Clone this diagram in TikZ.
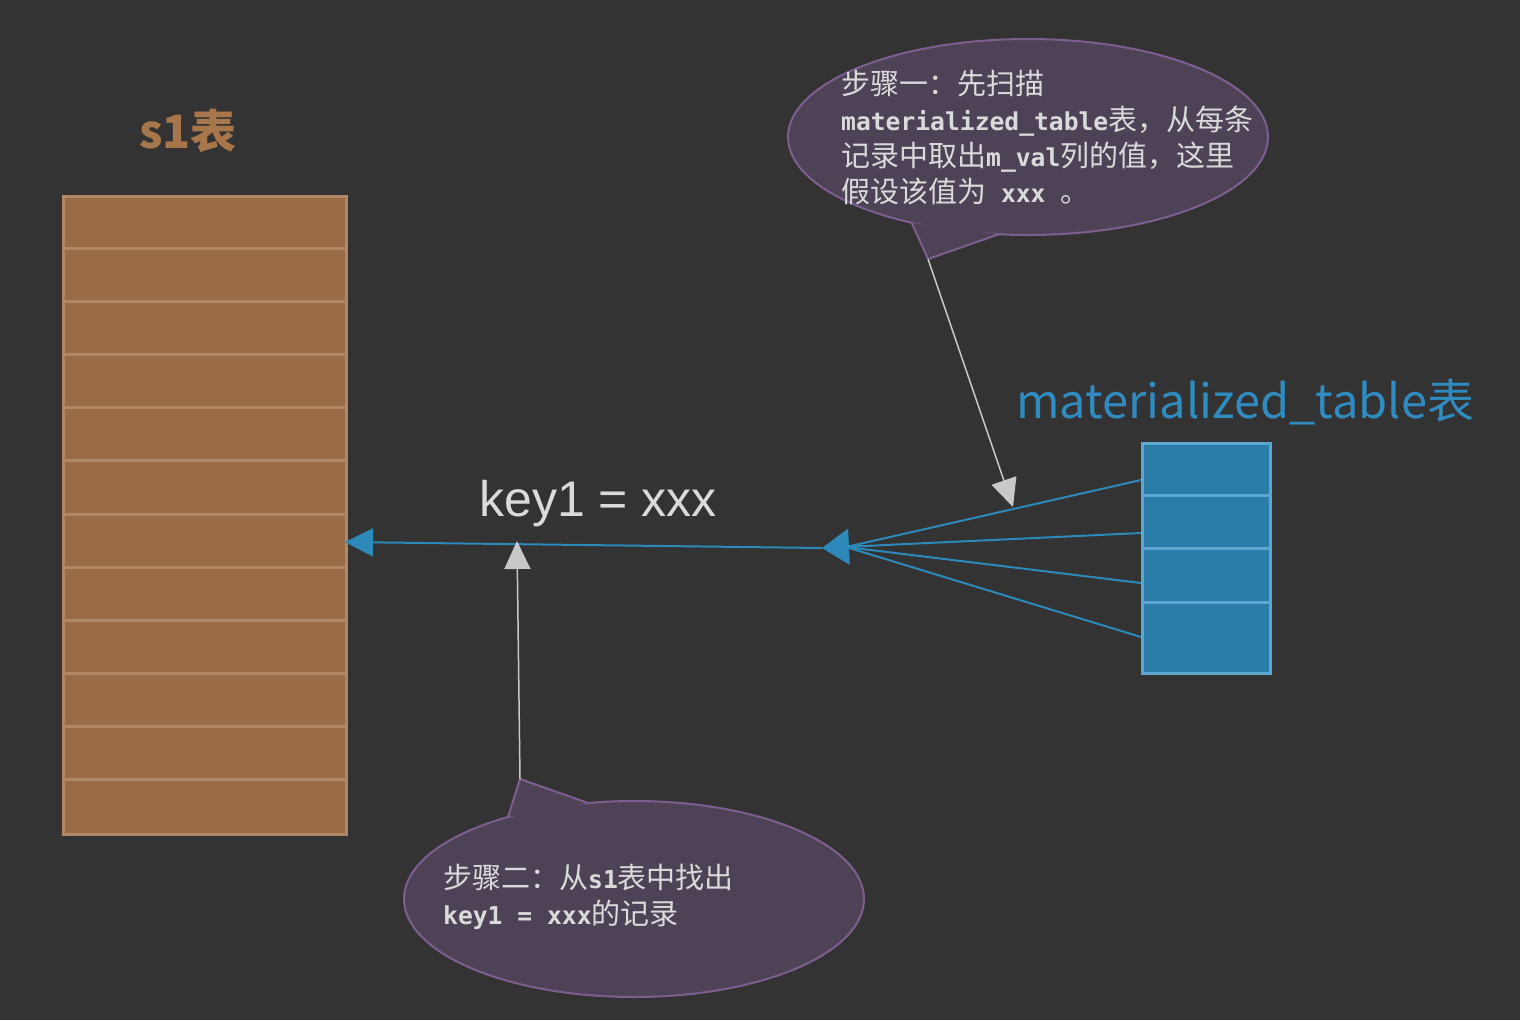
\documentclass[tikz,border=0pt]{standalone}
\usepackage{fontspec}
\setmainfont{Liberation Sans}
\newfontfamily\cjk{Noto Sans CJK SC}
\newfontfamily\monofnt[Scale=0.85]{DejaVu Sans Mono}
\usetikzlibrary{arrows.meta,calc}
\definecolor{bgc}{HTML}{333333}
\definecolor{s1fill}{HTML}{9A6B47}
\definecolor{s1line}{HTML}{B08866}
\definecolor{matfill}{HTML}{2A7DA8}
\definecolor{matline}{HTML}{5DA6CF}
\definecolor{blueln}{HTML}{2C89BA}
\definecolor{bubfill}{HTML}{4E4356}
\definecolor{bubline}{HTML}{7E5E90}
\definecolor{grayln}{HTML}{C8C8C8}
\definecolor{txtgray}{HTML}{DADADA}
\definecolor{s1title}{HTML}{A8764B}
\definecolor{mattitle}{HTML}{2F8BC0}
\newcommand{\mtxt}[1]{{\monofnt\bfseries #1}}
\tikzset{
  s1box/.style={draw=s1line, fill=s1fill, line width=3pt, inner sep=0pt, anchor=north west},
  s1row/.style={draw=s1line, line width=3pt},
  matbox/.style={draw=matline, fill=matfill, line width=3pt, inner sep=0pt, anchor=north west},
  matrow/.style={draw=matline, line width=3pt},
  bfill/.style={fill=bubfill},
  bline/.style={draw=bubline, line width=2pt},
  blueconn/.style={draw=blueln, line width=2pt},
  grayconn/.style={draw=grayln, line width=1.5pt, -{Triangle[length=28pt,width=26pt]}, grayln},
  bubtext/.style={anchor=north west, align=left, inner sep=0pt, text=txtgray, font=\fontsize{29}{36}\selectfont},
}
\begin{document}
\begin{tikzpicture}[x=1pt,y=-1pt]
\fill[bgc] (0,0) rectangle (1520,1020);
\useasboundingbox (0,0) rectangle (1520,1020);

% s1 table
\node[s1box, minimum width=283pt, minimum height=638pt] (s1) at (62,195) {};
\foreach \i in {1,...,11}
  \draw[s1row] ($(s1.north west)+(2,\i*53.17)$) -- ($(s1.north east)+(-2,\i*53.17)$);
\node[anchor=base west, inner sep=0pt, text=s1title, font=\cjk\bfseries\fontsize{46}{52}\selectfont] (s1t) at (139,148) {s1表};

% materialized table
\node[matbox, minimum width=128pt, minimum height=230pt] (mt) at (1141,442) {};
\draw[matrow] ($(mt.north west)+(2,53)$) -- ($(mt.north east)+(-2,53)$);
\draw[matrow] ($(mt.north west)+(2,106)$) -- ($(mt.north east)+(-2,106)$);
\draw[matrow] ($(mt.north west)+(2,160)$) -- ($(mt.north east)+(-2,160)$);
\node[anchor=base west, inner sep=0pt, text=mattitle, font=\cjk\fontsize{47}{54}\selectfont] (mtt) at (1016,418) {materialized\_table表};

% connectors
\coordinate (m1) at (1141,480);
\coordinate (m2) at (1141,533);
\coordinate (m3) at (1141,583);
\coordinate (m4) at (1141,637);
\coordinate (hub) at (846,547);
\coordinate (conv) at (822,548);
\coordinate (s1in) at (345,542);
\foreach \m in {m1,m3,m4}
  \draw[blueconn] (\m) -- (hub);
\draw[blueconn, -{Triangle[length=27pt,width=36pt]}, blueln] (m2) -- (conv);
\draw[blueconn, -{Triangle[length=28pt,width=28pt]}, blueln] (conv) -- (s1in);

\node[anchor=base west, inner sep=0pt, text=txtgray, font=\fontsize{50}{56}\selectfont] (key) at (479,516) {key1 = xxx};

% bubble 1
\coordinate (b1c) at (1028,137);
\fill[bfill] (b1c) ellipse[x radius=240, y radius=98];
\draw[bline] (b1c) ellipse[x radius=240, y radius=98];
\coordinate (t1a) at ($(b1c)+({240*cos(119)},{98*sin(119)})$);
\coordinate (t1b) at ($(b1c)+({240*cos(97)},{98*sin(97)})$);
\coordinate (t1) at (928,259);
\fill[bfill] (t1a) -- (t1) -- (t1b) -- cycle;
\draw[bline, line join=miter] (t1a) -- (t1) -- (t1b);
\node[bubtext] (bt1) at (841,70) {{\cjk 步骤一：先扫描}\\
\mtxt{materialized\_table}{\cjk 表，从每条}\\
{\cjk 记录中取出}\mtxt{m\_val}{\cjk 列的值，这里}\\
{\cjk 假设该值为}\mtxt{\ xxx\ }{\cjk 。}};

% bubble 2
\coordinate (b2c) at (634,899);
\fill[bfill] (b2c) ellipse[x radius=230, y radius=98];
\draw[bline] (b2c) ellipse[x radius=230, y radius=98];
\coordinate (t2a) at ($(b2c)+({230*cos(236.8)},{98*sin(236.8)})$);
\coordinate (t2b) at ($(b2c)+({230*cos(258.5)},{98*sin(258.5)})$);
\coordinate (t2) at (520,779);
\fill[bfill] (t2a) -- (t2) -- (t2b) -- cycle;
\draw[bline, line join=miter] (t2a) -- (t2) -- (t2b);
\node[bubtext] (bt2) at (443,864) {{\cjk 步骤二：从}\mtxt{s1}{\cjk 表中找出}\\
\mtxt{key1 = xxx}{\cjk 的记录}};

% gray arrows
\coordinate (g1) at (1013,507);
\coordinate (g2) at (517,541);
\draw[grayconn] (t1) -- (g1);
\draw[grayconn] (t2) -- (g2);
\end{tikzpicture}
\end{document}
